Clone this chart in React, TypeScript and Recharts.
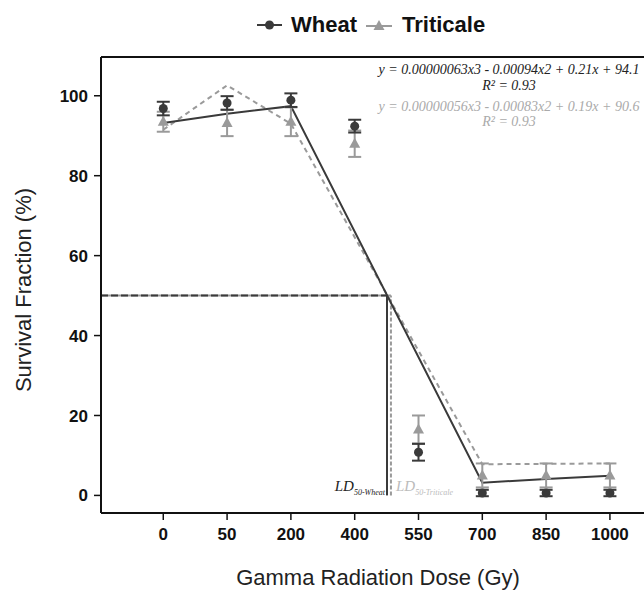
import React from 'react';
import {
  ComposedChart,
  Line,
  XAxis,
  YAxis,
  ErrorBar,
  ReferenceLine,
  Legend,
  Customized,
} from 'recharts';

// dose categories are spaced evenly, so the x axis runs on their index
const doseLabels = ['0', '50', '200', '400', '550', '700', '850', '1000'];

// observed survival (%) with error
const wheatMean = [96.8, 98.2, 98.9, 92.4, 10.8, 0.6, 0.6, 0.6];
const wheatErr = [1.7, 1.7, 1.7, 1.6, 2.1, 0.8, 0.8, 0.8];
const triticaleMean = [93.5, 93.2, 93.5, 88.0, 16.5, 5.0, 5.0, 5.0];
const triticaleErr = [2.5, 3.3, 3.6, 3.3, 3.5, 3.0, 3.0, 3.0];

// fitted curves (vertices only, straight runs between them)
const wheatFit = [93.2, 95.5, 97.4, null, null, 3.2, 4.1, 4.9];
const triticaleFit = [91.5, 102.6, 93.0, null, null, 7.8, 7.9, 8.0];

// LD50 positions on the index axis
const ldWheat = 3.506;
const ldTriticale = 3.568;
const ldLevel = 50;

const yTicks = [0, 20, 40, 60, 80, 100];
const xMin = -0.976;
const xMax = 7.534;
const yMin = -4.4;
const yMax = 109.7;

const wheatEq = 'y = 0.00000063x3 - 0.00094x2 + 0.21x + 94.1';
const triticaleEq = 'y = 0.00000056x3 - 0.00083x2 + 0.19x + 90.6';
const rSquared = ['R² = 0.93', 'R² = 0.93'];

const rows = doseLabels.map((_, i) => ({
  idx: i,
  wheat: wheatMean[i],
  wheatErr: wheatErr[i],
  triticale: triticaleMean[i],
  triticaleErr: triticaleErr[i],
  wheatFit: wheatFit[i],
  triticaleFit: triticaleFit[i],
}));

const DARK = '#3a3a3a';
const GREY = '#9a9a9a';
const SANS = "'Liberation Sans', Arial, sans-serif";
const SERIF = "'Liberation Serif', 'Times New Roman', serif";

const Circle = (p: any) =>
  p.cy == null ? null : <circle key={`c${p.index}`} cx={p.cx} cy={p.cy} r={4.5} fill={DARK} />;

const Triangle = (p: any) =>
  p.cy == null ? null : (
    <path
      key={`t${p.index}`}
      d={`M${p.cx},${p.cy - 6} L${p.cx - 5.5},${p.cy + 4} L${p.cx + 5.5},${p.cy + 4} Z`}
      fill={GREY}
    />
  );

const LegendBox = () => (
  <div
    style={{
      display: 'flex',
      alignItems: 'center',
      paddingLeft: 257,
      height: 30,
      fontFamily: SANS,
      fontWeight: 'bold',
      fontSize: 22,
      color: '#111',
    }}
  >
    <svg width={25} height={12}>
      <line x1={0} y1={6} x2={25} y2={6} stroke={DARK} strokeWidth={2} />
      <circle cx={12.5} cy={6} r={4.5} fill={DARK} />
    </svg>
    <span style={{ marginLeft: 9, marginRight: 9 }}>Wheat</span>
    <svg width={26} height={14}>
      <line x1={0} y1={8} x2={26} y2={8} stroke={GREY} strokeWidth={2} />
      <path d="M13,2 L7.5,12 L18.5,12 Z" fill={GREY} />
    </svg>
    <span style={{ marginLeft: 10 }}>Triticale</span>
  </div>
);

const Annotations = () => (
  <g>
    <g fontFamily={SERIF} fontStyle="italic" fontSize={14} textAnchor="middle">
      <text x={509} y={74} fill="#222">{wheatEq}</text>
      <text x={509} y={90} fill="#222">{rSquared[0]}</text>
      <text x={509} y={111} fill="#aaa">{triticaleEq}</text>
      <text x={509} y={126} fill="#aaa">{rSquared[1]}</text>
    </g>
    <g fontFamily={SERIF} fontStyle="italic">
      <text x={385} y={491} textAnchor="end" fill="#222" fontSize={15}>
        LD<tspan fontSize={8} dy={4}>50-Wheat</tspan>
      </text>
      <text x={396} y={491} fill="#bbb" fontSize={15}>
        LD<tspan fontSize={8} dy={4}>50-Triticale</tspan>
      </text>
    </g>
    <text
      x={23}
      y={290}
      transform="rotate(-90 23 290)"
      textAnchor="middle"
      dominantBaseline="central"
      fontFamily={SANS}
      fontSize={22}
      fill="#222"
    >
      Survival Fraction (%)
    </text>
    <text x={378} y={585} textAnchor="middle" fontFamily={SANS} fontSize={22} fill="#222">
      Gamma Radiation Dose (Gy)
    </text>
  </g>
);

const tickStyle = { fontSize: 17, fontWeight: 'bold', fill: '#111', fontFamily: SANS };

export default function App() {
  return (
    <div
      style={{
        position: 'fixed',
        left: 0,
        top: 0,
        width: 644,
        height: 599,
        overflow: 'hidden',
        background: '#fff',
      }}
    >
      <ComposedChart
        width={644}
        height={599}
        data={rows}
        margin={{ top: 57, right: 0, left: 0, bottom: 0 }}
      >
        <XAxis
          dataKey="idx"
          type="number"
          domain={[xMin, xMax]}
          allowDataOverflow
          ticks={doseLabels.map((_, i) => i)}
          tickFormatter={(v: number) => doseLabels[v]}
          height={86}
          tickSize={7}
          tickMargin={8}
          tick={tickStyle}
          axisLine={{ stroke: '#111', strokeWidth: 2 }}
          tickLine={{ stroke: '#111', strokeWidth: 1.5 }}
        />
        <YAxis
          type="number"
          domain={[yMin, yMax]}
          allowDataOverflow
          ticks={yTicks}
          width={101}
          tickSize={7}
          tickMargin={6}
          tick={tickStyle}
          axisLine={{ stroke: '#111', strokeWidth: 2 }}
          tickLine={{ stroke: '#111', strokeWidth: 1.5 }}
        />
        <Legend
          content={<LegendBox />}
          layout="horizontal"
          verticalAlign="middle"
          align="center"
          wrapperStyle={{ top: 10, left: 0, width: 644 }}
        />
        <ReferenceLine y={yMax} stroke="#111" strokeWidth={2} ifOverflow="visible" />

        <ReferenceLine
          segment={[{ x: xMin, y: ldLevel }, { x: ldTriticale, y: ldLevel }]}
          stroke={GREY}
          strokeWidth={2}
          ifOverflow="visible"
        />
        <ReferenceLine
          segment={[{ x: xMin, y: ldLevel }, { x: ldWheat, y: ldLevel }]}
          stroke={DARK}
          strokeWidth={2}
          strokeDasharray="7 3"
          ifOverflow="visible"
        />
        <ReferenceLine
          segment={[{ x: ldWheat, y: 0 }, { x: ldWheat, y: ldLevel }]}
          stroke={DARK}
          strokeWidth={2}
          ifOverflow="visible"
        />
        <ReferenceLine
          segment={[{ x: ldTriticale, y: 0 }, { x: ldTriticale, y: ldLevel }]}
          stroke={GREY}
          strokeWidth={2}
          strokeDasharray="4 2"
          ifOverflow="visible"
        />

        <Line
          dataKey="triticaleFit"
          type="linear"
          stroke={GREY}
          strokeWidth={2}
          strokeDasharray="5 4"
          dot={false}
          activeDot={false}
          connectNulls
          isAnimationActive={false}
        />
        <Line
          dataKey="wheatFit"
          type="linear"
          stroke={DARK}
          strokeWidth={2}
          dot={false}
          activeDot={false}
          connectNulls
          isAnimationActive={false}
        />
        <Line
          dataKey="triticale"
          stroke="none"
          dot={Triangle}
          activeDot={false}
          isAnimationActive={false}
        >
          <ErrorBar dataKey="triticaleErr" direction="y" width={6.5} stroke={GREY} strokeWidth={2} />
        </Line>
        <Line
          dataKey="wheat"
          stroke="none"
          dot={Circle}
          activeDot={false}
          isAnimationActive={false}
        >
          <ErrorBar dataKey="wheatErr" direction="y" width={6.5} stroke={DARK} strokeWidth={2} />
        </Line>
        <Customized component={<Annotations />} />
      </ComposedChart>
    </div>
  );
}
